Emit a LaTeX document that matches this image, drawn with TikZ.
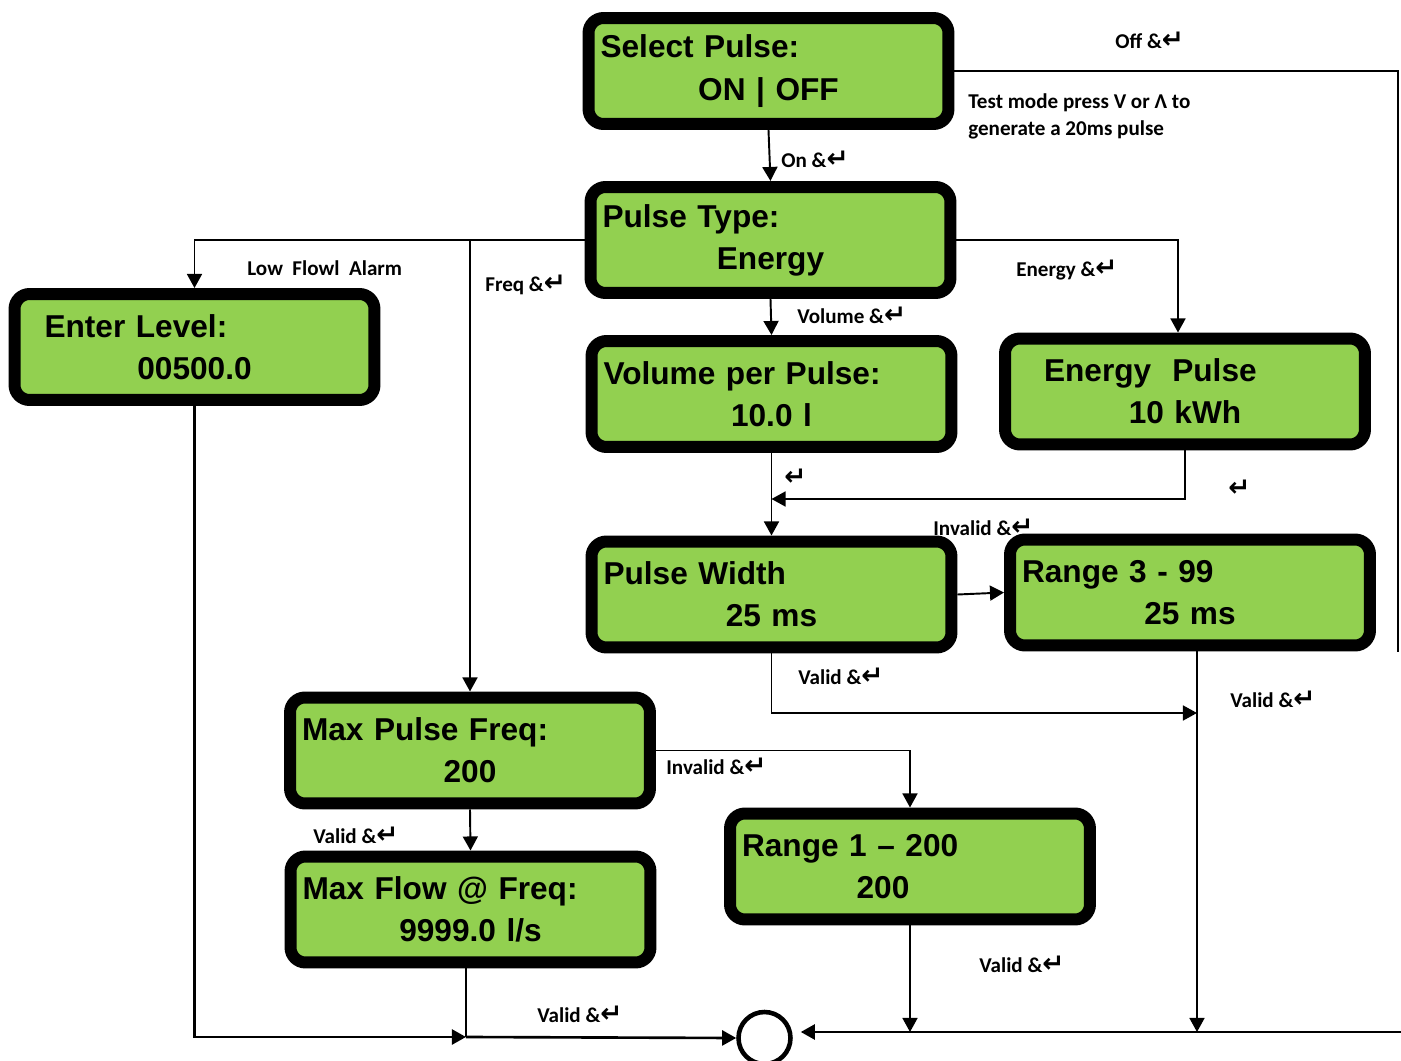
\documentclass[tikz,border=0pt]{standalone}
\usepackage{fontspec}
\setmainfont{Liberation Sans}
\newfontfamily\lblfont{Carlito}
\newfontfamily\symfont{DejaVu Sans}
\usetikzlibrary{arrows.meta, positioning, calc}
\definecolor{lcdgreen}{RGB}{146,208,80}
\newcommand{\entkey}{{\fontsize{15}{15}\symfont ↵}}
\newcommand{\lcdtop}[1]{\makebox[6.72cm][l]{#1}}
\tikzset{
    % display boxes
    lcdbox/.style={rectangle, rounded corners=0.3cm, draw=black, line width=0.24cm,
                fill=lcdgreen, minimum width=7.2cm, minimum height=2.12cm,
                text width=6.72cm, inner xsep=0.24cm, outer sep=0.12cm, align=center,
                font=\fontsize{18}{24}\selectfont\bfseries},
    endcircle/.style={circle, draw=black, line width=2.6pt, fill=white,
                minimum size=1.04cm, inner sep=0pt},
    % key labels
    keylbl/.style={anchor=west, inner sep=0pt,
                font=\fontsize{12}{15.3}\lblfont\bfseries},
    % connectors
    flow/.style={-{Triangle[length=8pt, width=8.5pt]}, line width=1.1pt},
    wire/.style={line width=1.1pt},
}
\begin{document}
\begin{tikzpicture}[x=0.02cm, y=-0.02cm]
\useasboundingbox (0,0) rectangle (1401,1061);
\node[lcdbox] (sel)     at (768.5,71)   {\lcdtop{Select Pulse:}\\ON | OFF};
\node[lcdbox] (ptype)   at (770.5,240)  {\lcdtop{Pulse Type:}\\Energy};
\node[lcdbox] (level)   at (194.5,347)  {\lcdtop{\hspace*{0.36cm}Enter Level:}\\00500.0};
\node[lcdbox] (vol)     at (771.5,394)  {\lcdtop{Volume per Pulse:}\\10.0 l};
\node[lcdbox] (epulse)  at (1185,391.5) {\lcdtop{\hspace*{0.54cm}Energy\ \ Pulse}\\10 kWh};
\node[lcdbox] (pwidth)  at (771.5,594.5) {\lcdtop{Pulse Width}\\25 ms};
\node[lcdbox] (rwidth)  at (1190,592.5) {\lcdtop{Range 3 - 99}\\25 ms};
\node[lcdbox] (maxfreq) at (470,750.5)  {\lcdtop{Max Pulse Freq:}\\200};
\node[lcdbox] (maxflow) at (470.5,909.5) {\lcdtop{Max Flow @ Freq:}\\9999.0 l/s};
\node[lcdbox] (rfreq)   at (910,866.5)  {\lcdtop{Range 1 – 200}\\\hspace*{-1.08cm}200};
\node[endcircle] (done) at (764.5,1038) {};
% free ends
\coordinate (offend)   at (1398,652);
\coordinate (offbot)   at (1401,1032);
\coordinate (freqtop)  at (470,240);
\coordinate (ejoin)    at (771.5,499);
\coordinate (pwvalid)  at (1197,713);
\coordinate (rwbot)    at (1197,1032);
\coordinate (rfbot)    at (910,1032);
\coordinate (flowjoin) at (466,1037);
% connectors
\draw[flow] (sel.south) -- (ptype.north);
\draw[wire] (sel.east) -| (offend);
\draw[flow, line width=1.5pt, shorten >=0.16cm] (offbot) -- (offbot -| done.east);
\draw[flow] (ptype.west) -| (level.north);
\draw[flow] (freqtop) -- (maxfreq.north);
\draw[flow] (ptype.south) -- (vol.north);
\draw[flow] (ptype.east) -| ([xshift=-0.14cm]epulse.north);
\draw[flow] (vol.south) -- (pwidth.north);
\draw[flow] (epulse.south) |- (ejoin);
\draw[flow] (pwidth.east) -- (rwidth.west);
\draw[flow] (pwidth.south) |- (pwvalid);
\draw[flow] (rwidth.south -| rwbot) -- (rwbot);
\draw[flow] (maxfreq.south) -- (maxflow.north);
\draw[flow] (maxfreq.east) -| (rfreq.north);
\draw[flow] (rfreq.south) -- (rfbot);
\draw[flow, line width=1.5pt] (level.south) |- (flowjoin);
\draw[wire] (maxflow.south -| flowjoin) -- (flowjoin);
\draw[flow, line width=1.5pt] (flowjoin) -- (done.west);
% labels
\node[keylbl] (lon)    at (781,159)  {On \&\entkey};
\node[keylbl] (loff)   at (1115,40)  {Off \&\entkey};
\node[keylbl, align=left] (testnote) at (968,116.5) {Test mode press V or Λ to\\generate a 20ms pulse};
\node[keylbl] (lalarm) at (247,268)  {Low\ \ Flowl\ \ Alarm};
\node[keylbl] (lfreq)  at (485,285)  {Freq \&\entkey};
\node[keylbl] (lvol)   at (797,315)  {Volume \&\entkey};
\node[keylbl] (lenergy) at (1016,270) {Energy \&\entkey};
\node[keylbl] (lret1)  at (784,477)  {\entkey};
\node[keylbl] (lret2)  at (1228,488) {\entkey};
\node[keylbl] (linv1)  at (933,527)  {Invalid \&\entkey};
\node[keylbl] (lval1)  at (798,676)  {Valid \&\entkey};
\node[keylbl] (lval2)  at (1230,699) {Valid \&\entkey};
\node[keylbl] (linv2)  at (666,766)  {Invalid \&\entkey};
\node[keylbl] (lval3)  at (313,835)  {Valid \&\entkey};
\node[keylbl] (lval4)  at (979,964)  {Valid \&\entkey};
\node[keylbl] (lval5)  at (537,1014) {Valid \&\entkey};
\end{tikzpicture}
\end{document}
